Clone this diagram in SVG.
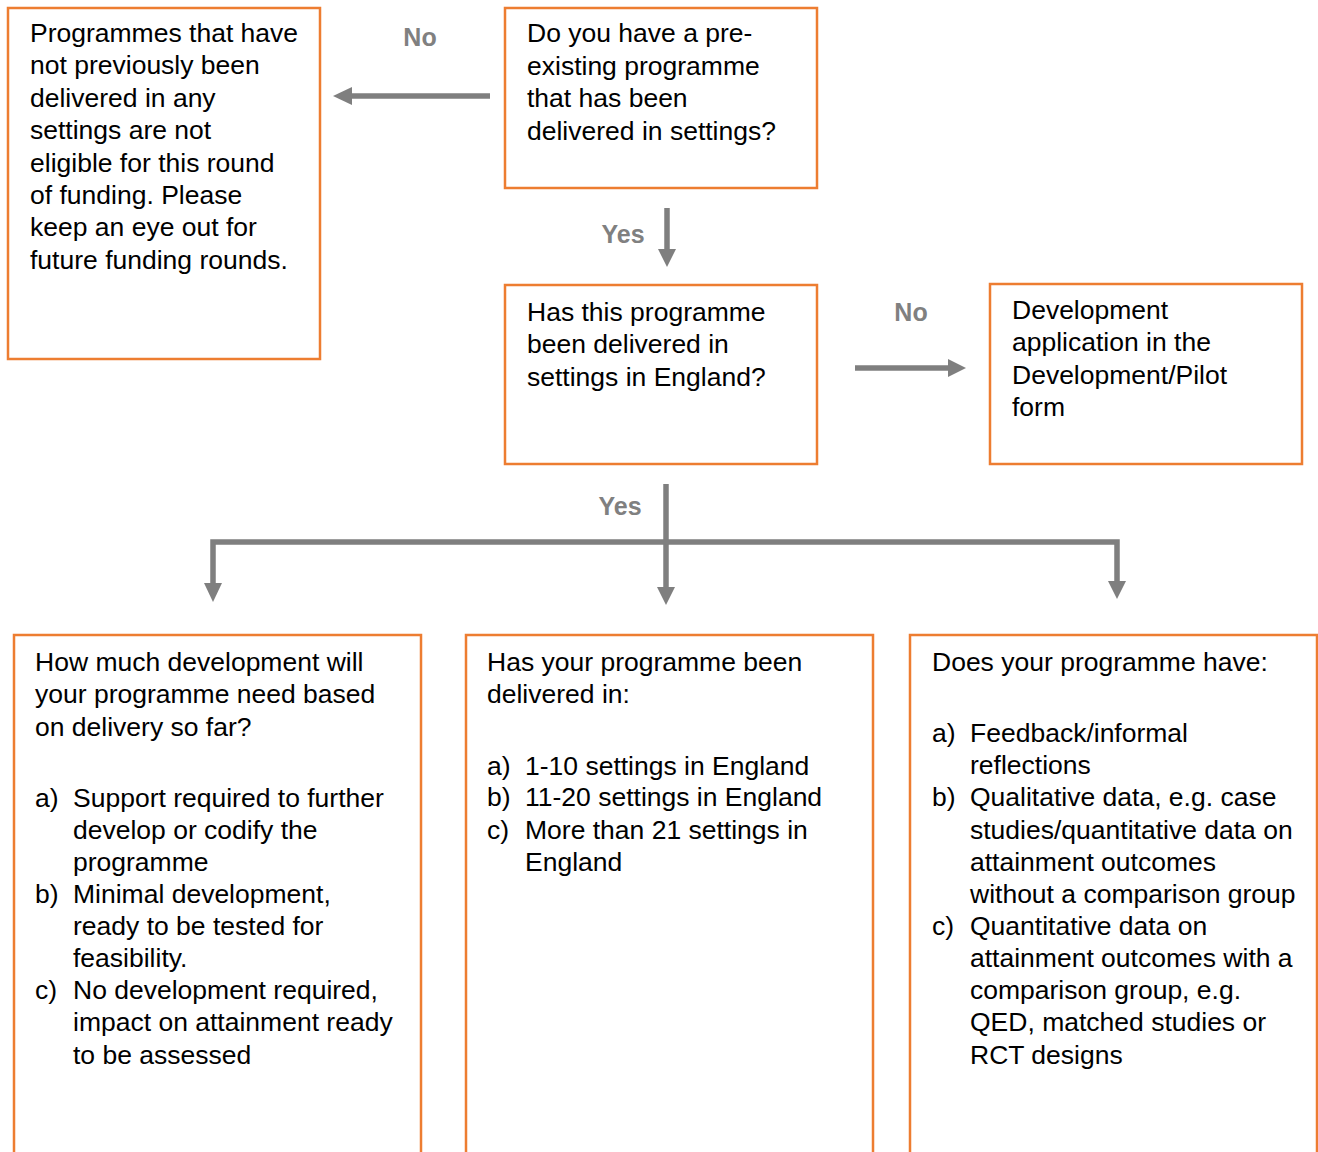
<svg xmlns="http://www.w3.org/2000/svg" width="1318" height="1152" viewBox="0 0 1318 1152">
<defs>
<style>
.box{fill:#fff;stroke:#ED7D31;stroke-width:2.5}
.t{font-family:"Liberation Sans",Arial,sans-serif;font-size:26.5px;fill:#000}
.lbl{font-family:"Liberation Sans",Arial,sans-serif;font-size:25px;font-weight:bold;fill:#808080;text-anchor:middle}
.ln{stroke:#7F7F7F;stroke-width:5.5;fill:none}
.hd{fill:#7F7F7F}
</style>
</defs>
<rect width="1318" height="1152" fill="#fff"/>
<g id="connectors">
<line class="ln" x1="490" y1="96" x2="350" y2="96"/>
<polygon class="hd" points="333,96 352,87 352,105"/>
<line class="ln" x1="667" y1="208" x2="667" y2="251"/>
<polygon class="hd" points="667,267 658,249 676,249"/>
<line class="ln" x1="855" y1="368" x2="950" y2="368"/>
<polygon class="hd" points="966,368 948,359 948,377"/>
<line class="ln" x1="666" y1="484" x2="666" y2="588"/>
<polygon class="hd" points="666,605 657,587 675,587"/>
<polyline class="ln" points="213,586 213,542 1117,542 1117,584"/>
<polygon class="hd" points="213,602 204,583 222,583"/>
<polygon class="hd" points="1117,599 1108,581 1126,581"/>
<text class="lbl" x="420" y="46">No</text>
<text class="lbl" x="623" y="243">Yes</text>
<text class="lbl" x="911" y="321">No</text>
<text class="lbl" x="620" y="515">Yes</text>
</g>
<g id="node-not-eligible">
<rect class="box" x="8" y="8" width="312" height="351"/>
<text class="t" x="30" y="42">Programmes that have</text>
<text class="t" x="30" y="74.4">not previously been</text>
<text class="t" x="30" y="106.8">delivered in any</text>
<text class="t" x="30" y="139.2">settings are not</text>
<text class="t" x="30" y="171.6">eligible for this round</text>
<text class="t" x="30" y="204">of funding. Please</text>
<text class="t" x="30" y="236.4">keep an eye out for</text>
<text class="t" x="30" y="268.8">future funding rounds.</text>
</g>
<g id="node-preexisting">
<rect class="box" x="505" y="8" width="312" height="180"/>
<text class="t" x="527" y="42">Do you have a pre-</text>
<text class="t" x="527" y="74.5">existing programme</text>
<text class="t" x="527" y="107">that has been</text>
<text class="t" x="527" y="139.5">delivered in settings?</text>
</g>
<g id="node-england">
<rect class="box" x="505" y="285" width="312" height="179"/>
<text class="t" x="527" y="321">Has this programme</text>
<text class="t" x="527" y="353">been delivered in</text>
<text class="t" x="527" y="385.5">settings in England?</text>
</g>
<g id="node-development">
<rect class="box" x="990" y="284" width="312" height="180"/>
<text class="t" x="1012" y="319">Development</text>
<text class="t" x="1012" y="351">application in the</text>
<text class="t" x="1012" y="384">Development/Pilot</text>
<text class="t" x="1012" y="416">form</text>
</g>
<g id="node-how-much">
<rect class="box" x="14" y="635" width="407" height="520"/>
<text class="t" x="35" y="671">How much development will</text>
<text class="t" x="35" y="703">your programme need based</text>
<text class="t" x="35" y="736">on delivery so far?</text>
<text class="t" x="35" y="807">a)</text>
<text class="t" x="73" y="807">Support required to further</text>
<text class="t" x="73" y="839">develop or codify the</text>
<text class="t" x="73" y="871">programme</text>
<text class="t" x="35" y="903">b)</text>
<text class="t" x="73" y="903">Minimal development,</text>
<text class="t" x="73" y="935">ready to be tested for</text>
<text class="t" x="73" y="967">feasibility.</text>
<text class="t" x="35" y="999">c)</text>
<text class="t" x="73" y="999">No development required,</text>
<text class="t" x="73" y="1031">impact on attainment ready</text>
<text class="t" x="73" y="1064">to be assessed</text>
</g>
<g id="node-delivered-in">
<rect class="box" x="466" y="635" width="407" height="520"/>
<text class="t" x="487" y="671">Has your programme been</text>
<text class="t" x="487" y="703">delivered in:</text>
<text class="t" x="487" y="775">a)</text>
<text class="t" x="525" y="775">1-10 settings in England</text>
<text class="t" x="487" y="806">b)</text>
<text class="t" x="525" y="806">11-20 settings in England</text>
<text class="t" x="487" y="839">c)</text>
<text class="t" x="525" y="839">More than 21 settings in</text>
<text class="t" x="525" y="871">England</text>
</g>
<g id="node-evidence">
<rect class="box" x="910" y="635" width="407" height="520"/>
<text class="t" x="932" y="671">Does your programme have:</text>
<text class="t" x="932" y="742">a)</text>
<text class="t" x="970" y="742">Feedback/informal</text>
<text class="t" x="970" y="774">reflections</text>
<text class="t" x="932" y="806">b)</text>
<text class="t" x="970" y="806">Qualitative data, e.g. case</text>
<text class="t" x="970" y="839">studies/quantitative data on</text>
<text class="t" x="970" y="871">attainment outcomes</text>
<text class="t" x="970" y="903">without a comparison group</text>
<text class="t" x="932" y="935">c)</text>
<text class="t" x="970" y="935">Quantitative data on</text>
<text class="t" x="970" y="967">attainment outcomes with a</text>
<text class="t" x="970" y="999">comparison group, e.g.</text>
<text class="t" x="970" y="1031">QED, matched studies or</text>
<text class="t" x="970" y="1064">RCT designs</text>
</g>
</svg>
